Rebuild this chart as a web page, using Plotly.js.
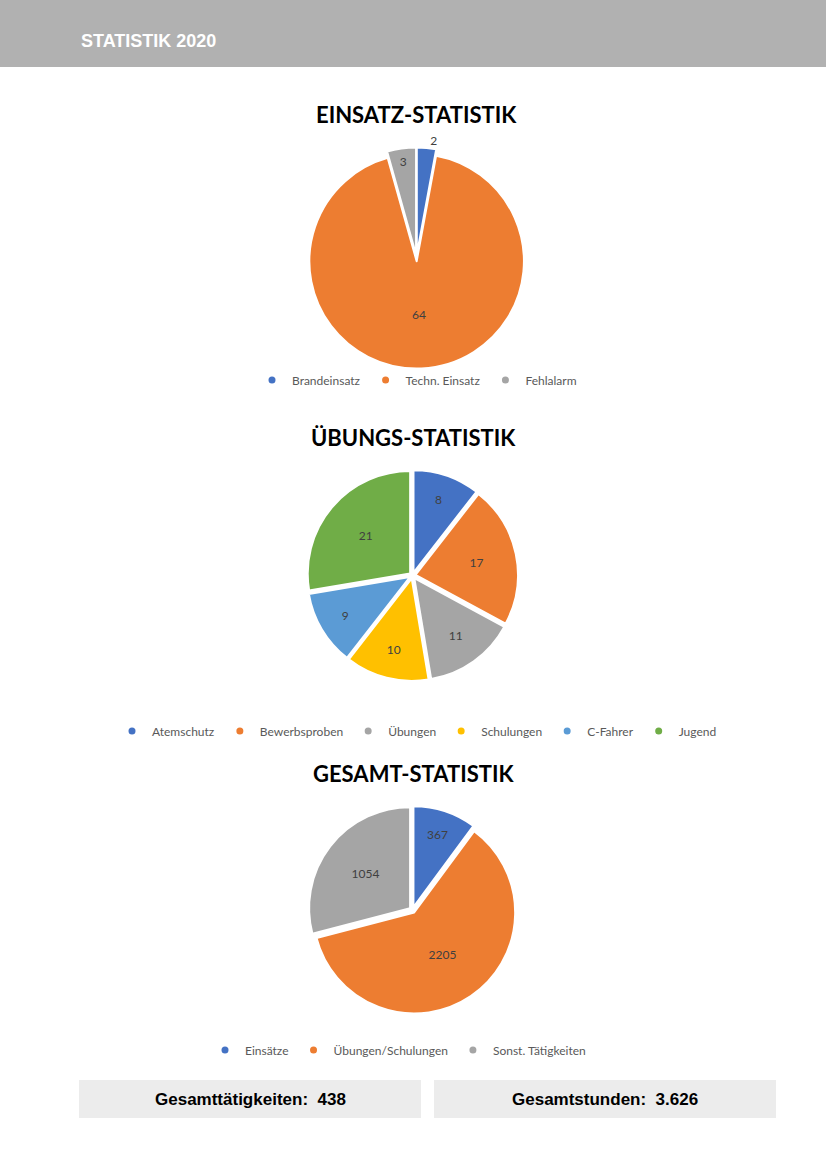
<!DOCTYPE html>
<html><head><meta charset="utf-8">
<script src="https://cdn.plot.ly/plotly-3.0.1.min.js"></script>
<style>html,body{margin:0;padding:0;background:#fff}#c{width:826px;height:1169px}</style>
</head><body><div id="c"></div>
<script>
// ---- data ----
const einsatzLabels = ['Brandeinsatz', 'Techn. Einsatz', 'Fehlalarm'];
const einsatzValues = [2, 64, 3];
const uebungLabels = ['Atemschutz', 'Bewerbsproben', 'Übungen', 'Schulungen', 'C-Fahrer', 'Jugend'];
const uebungValues = [8, 17, 11, 10, 9, 21];
const gesamtLabels = ['Einsätze', 'Übungen/Schulungen', 'Sonst. Tätigkeiten'];
const gesamtValues = [367, 2205, 1054];
const headerText = 'STATISTIK 2020';
const chartTitles = ['EINSATZ-STATISTIK', 'ÜBUNGS-STATISTIK', 'GESAMT-STATISTIK'];
const totalsLabels = ['Gesamttätigkeiten:  438', 'Gesamtstunden:  3.626'];

// ---- style ----
const W = 826, H = 1169;
const px = x => x / W, py = y => 1 - y / H;
const colors = ['#4472C4', '#ED7D31', '#A5A5A5', '#FFC000', '#5B9BD5', '#70AD47'];
const titleFont = {family: 'Lato, "Open Sans", sans-serif', size: 22, color: '#000', weight: 'bold'};
const legendFont = {family: 'Lato, "Open Sans", sans-serif', size: 12, color: '#595959'};
const labelFont = {family: 'Lato, "Open Sans", sans-serif', size: 12, color: '#404040'};
const boxFont = {family: '"Liberation Sans", Arial, sans-serif', size: 17, color: '#000', weight: 'bold'};

function pie(labels, values, cx, cy, half, pos) {
  return {
    type: 'pie', labels: labels, values: values, sort: false, direction: 'clockwise', rotation: 0,
    marker: {colors: colors.slice(0, labels.length), line: {color: '#fff', width: 2}},
    pull: 0.03, textinfo: 'value', textposition: pos, insidetextorientation: 'horizontal',
    textfont: labelFont, outsidetextfont: labelFont, showlegend: false, hoverinfo: 'label+value',
    domain: {x: [px(cx - half), px(cx + half)], y: [py(cy + half), py(cy - half)]}
  };
}
const traces = [
  pie(einsatzLabels, einsatzValues, 416.5, 258, 110.5, ['outside', 'inside', 'inside']),
  pie(uebungLabels, uebungValues, 412.5, 575.5, 105.5, 'inside'),
  pie(gesamtLabels, gesamtValues, 412.5, 910, 104, 'inside')
];
function legendItems(labels, legendId) {
  labels.forEach((l, i) => traces.push({
    type: 'scatter', mode: 'markers', x: [null], y: [null], name: l, legend: legendId,
    marker: {color: colors[i], size: 7, symbol: 'circle', line: {color: '#fff', width: 0}},
    hoverinfo: 'skip'
  }));
}
legendItems(einsatzLabels, 'legend');
legendItems(uebungLabels, 'legend2');
legendItems(gesamtLabels, 'legend3');

const legendBase = {orientation: 'h', xanchor: 'center', yanchor: 'middle', font: legendFont,
  bgcolor: 'rgba(0,0,0,0)', itemwidth: 30, tracegroupgap: 0};

function ann(text, x, y, font, xanchor) {
  return {text: text, x: px(x), y: py(y), xref: 'paper', yref: 'paper', xanchor: xanchor || 'center',
          yanchor: 'middle', showarrow: false, font: font};
}
const annotations = [
  ann(headerText, 79, 41, {family: '"Liberation Sans Narrow", "Liberation Sans", Roboto, sans-serif', size: 18, color: '#fff', weight: 'bold'}, 'left'),
  ann(chartTitles[0], 416.5, 114, titleFont),
  ann(chartTitles[1], 413, 438, titleFont),
  ann(chartTitles[2], 413, 773, titleFont),
  ann(totalsLabels[0], 250, 1099, boxFont),
  ann(totalsLabels[1], 605, 1099, boxFont)
];
const shapes = [
  {type: 'rect', xref: 'paper', yref: 'paper', x0: 0, x1: 1, y0: py(67), y1: 1, fillcolor: '#b1b1b1', line: {width: 0}, layer: 'below'},
  {type: 'rect', xref: 'paper', yref: 'paper', x0: px(79), x1: px(421), y0: py(1118), y1: py(1080), fillcolor: '#ececec', line: {width: 0}, layer: 'below'},
  {type: 'rect', xref: 'paper', yref: 'paper', x0: px(434), x1: px(776), y0: py(1118), y1: py(1080), fillcolor: '#ececec', line: {width: 0}, layer: 'below'}
];

const layout = {
  width: W, height: H, margin: {l: 0, r: 0, t: 0, b: 0}, paper_bgcolor: '#fff', plot_bgcolor: 'rgba(0,0,0,0)',
  xaxis: {visible: false, domain: [0, 0.001]}, yaxis: {visible: false, domain: [0, 0.001]},
  legend: Object.assign({}, legendBase, {x: px(417), y: py(380)}),
  legend2: Object.assign({}, legendBase, {x: px(417), y: py(731)}),
  legend3: Object.assign({}, legendBase, {x: px(398), y: py(1050)}),
  annotations: annotations, shapes: shapes
};
Plotly.newPlot('c', traces, layout, {displayModeBar: false, staticPlot: true});
</script></body></html>
